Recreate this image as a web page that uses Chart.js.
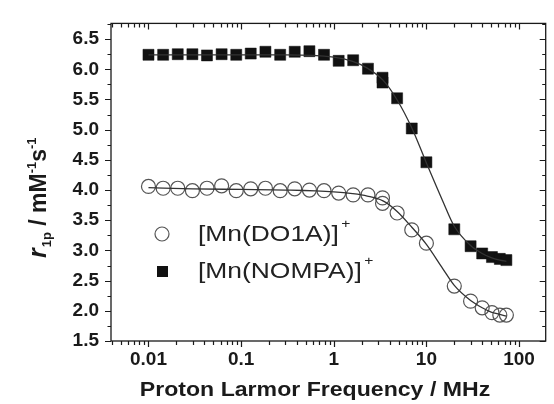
<!DOCTYPE html>
<html>
<head>
<meta charset="utf-8">
<script src="https://cdn.jsdelivr.net/npm/chart.js@4.4.0/dist/chart.umd.min.js"></script>
<style>
  html, body { margin: 0; padding: 0; background: #fff; }
  #wrap { width: 554px; height: 404px; }
</style>
</head>
<body>
<div id="wrap"><canvas id="chart" width="554" height="404"></canvas></div>
<script>
// proton Larmor frequency, MHz
const freqs = [0.01, 0.0144, 0.0207, 0.0298, 0.0428, 0.0616, 0.0886, 0.127, 0.183, 0.264, 0.379, 0.546, 0.785,
               1.13, 1.62, 2.34, 3.36, 3.36, 4.83, 6.95, 10, 20, 30, 40, 51, 62, 73];
// r1p, mM-1 s-1
const do1aR1 = [4.06, 4.03, 4.03, 3.99, 4.03, 4.07, 3.99, 4.02, 4.03, 3.99, 4.02, 4.00, 3.99,
                3.95, 3.92, 3.92, 3.87, 3.78, 3.62, 3.34, 3.12, 2.41, 2.16, 2.05, 1.97, 1.93, 1.93];
const nompaR1 = [6.24, 6.24, 6.25, 6.25, 6.23, 6.25, 6.24, 6.26, 6.29, 6.24, 6.29, 6.30, 6.24,
                 6.14, 6.15, 6.01, 5.86, 5.78, 5.52, 5.02, 4.46, 3.35, 3.07, 2.95, 2.89, 2.86, 2.84];

// fitted curves
const fitFreqs = [0.01, 0.03, 0.1, 0.3, 1, 1.6, 2.3, 3.4, 4.8, 7, 10, 15, 20, 30, 40, 50, 62, 73];
const do1aFit = [4.04, 4.02, 4.01, 4.00, 3.97, 3.94, 3.90, 3.82, 3.65, 3.38, 3.10, 2.70, 2.42, 2.17, 2.05, 1.98, 1.94, 1.91];
const nompaFit = [6.24, 6.24, 6.24, 6.24, 6.20, 6.13, 6.02, 5.82, 5.50, 5.02, 4.45, 3.82, 3.40, 3.08, 2.95, 2.88, 2.84, 2.82];

const xTicks = [0.01, 0.1, 1, 10, 100];
const xTickLabels = ['0.01', '0.1', '1', '10', '100'];
const yTicks = [1.5, 2.0, 2.5, 3.0, 3.5, 4.0, 4.5, 5.0, 5.5, 6.0, 6.5];
const yTickLabels = ['1.5', '2.0', '2.5', '3.0', '3.5', '4.0', '4.5', '5.0', '5.5', '6.0', '6.5'];

const seriesNames = ['[Mn(DO1A)]', '[Mn(NOMPA)]'];
const FONT = "'Liberation Sans', Arial, sans-serif";
const INK = '#1a1a1a';

const toPoints = (xs, ys) => xs.map((x, i) => ({ x: x, y: ys[i] }));

// frame, mirrored ticks, y title, x title and the in-plot legend
const decorations = {
    id: 'decorations',
    afterDraw(chart) {
        const ctx = chart.ctx;
        const a = chart.chartArea;
        const xs = chart.scales.x, ys = chart.scales.y;
        ctx.save();
        ctx.strokeStyle = INK;
        ctx.lineWidth = 1.3;
        ctx.strokeRect(a.left, a.top, a.right - a.left, a.bottom - a.top);

        ctx.beginPath();
        for (let d = -3; d <= 2; d++) {
            for (let m = 1; m <= 9; m++) {
                const v = m * Math.pow(10, d);
                if (v < xs.min || v > xs.max) continue;
                const px = Math.round(xs.getPixelForValue(v)) + 0.5;
                const len = m === 1 ? 6 : 4;
                ctx.moveTo(px, a.bottom); ctx.lineTo(px, a.bottom + len);
                ctx.moveTo(px, a.top); ctx.lineTo(px, a.top + len);
            }
        }
        for (let v = 1.5; v <= 6.76; v += 0.25) {
            const py = Math.round(ys.getPixelForValue(v)) + 0.5;
            const len = Math.abs(v * 2 - Math.round(v * 2)) < 1e-6 ? 6 : 3.5;
            ctx.moveTo(a.left - len, py); ctx.lineTo(a.left, py);
            ctx.moveTo(a.right - len, py); ctx.lineTo(a.right, py);
        }
        ctx.lineWidth = 1.2;
        ctx.stroke();

        // x title
        ctx.fillStyle = INK;
        ctx.textAlign = 'center';
        ctx.textBaseline = 'middle';
        ctx.save();
        ctx.translate(315, 390);
        ctx.scale(1.1, 1);
        ctx.font = 'bold 21px ' + FONT;
        ctx.fillText('Proton Larmor Frequency / MHz', 0, 0);
        ctx.restore();

        // y title: r_1p / mM^-1 s^-1
        ctx.save();
        ctx.translate(46, 258);
        ctx.rotate(-Math.PI / 2);
        ctx.textAlign = 'left';
        ctx.textBaseline = 'alphabetic';
        const parts = [
            { t: 'r', f: 'italic bold 25px ', dy: 0 },
            { t: '1p', f: 'bold 13px ', dy: 5 },
            { t: ' / mM', f: 'bold 23px ', dy: 0 },
            { t: '-1', f: 'bold 13px ', dy: -10 },
            { t: 's', f: 'bold 23px ', dy: 0 },
            { t: '-1', f: 'bold 13px ', dy: -10 }
        ];
        let cx = 0;
        for (const p of parts) {
            ctx.font = p.f + FONT;
            ctx.fillText(p.t, cx, p.dy);
            cx += ctx.measureText(p.t).width + (p.t === 'r' ? 1 : 0);
        }
        ctx.restore();

        // legend
        const rows = [{ y: 234, name: seriesNames[0] }, { y: 271, name: seriesNames[1] }];
        ctx.lineWidth = 1.2;
        ctx.strokeStyle = '#555';
        ctx.beginPath();
        ctx.arc(162, rows[0].y, 7, 0, Math.PI * 2);
        ctx.stroke();
        ctx.fillStyle = '#111';
        ctx.fillRect(157, rows[1].y - 5, 11, 11);
        ctx.fillStyle = '#222';
        for (const r of rows) {
            ctx.save();
            ctx.translate(198, r.y);
            ctx.scale(1.2, 1);
            ctx.textAlign = 'left';
            ctx.textBaseline = 'middle';
            ctx.font = '22px ' + FONT;
            ctx.fillText(r.name, 0, 1);
            const w = ctx.measureText(r.name).width;
            ctx.font = '13px ' + FONT;
            ctx.fillText('+', w + 2, -10);
            ctx.restore();
        }
        ctx.restore();
    }
};

new Chart(document.getElementById('chart'), {
    type: 'scatter',
    data: {
        datasets: [
            {
                type: 'line',
                data: toPoints(fitFreqs, do1aFit),
                borderColor: '#333',
                borderWidth: 1.3,
                pointRadius: 0,
                cubicInterpolationMode: 'monotone',
                fill: false
            },
            {
                type: 'line',
                data: toPoints(fitFreqs, nompaFit),
                borderColor: '#333',
                borderWidth: 1.3,
                pointRadius: 0,
                cubicInterpolationMode: 'monotone',
                fill: false
            },
            {
                label: seriesNames[0],
                data: toPoints(freqs, do1aR1),
                pointStyle: 'circle',
                pointRadius: 7,
                borderColor: '#555',
                borderWidth: 1.2,
                backgroundColor: 'rgba(0,0,0,0)'
            },
            {
                label: seriesNames[1],
                data: toPoints(freqs, nompaR1),
                pointStyle: 'rect',
                pointRadius: 7.8,
                borderColor: '#111',
                borderWidth: 0.5,
                backgroundColor: '#111'
            }
        ]
    },
    options: {
        responsive: false,
        animation: false,
        layout: { padding: { top: 14, right: 2, left: 0, bottom: 0 } },
        plugins: {
            legend: { display: false },
            tooltip: { enabled: false }
        },
        scales: {
            x: {
                type: 'logarithmic',
                min: 0.00394,
                max: 194,
                grid: { display: false, drawTicks: false },
                border: { display: false },
                afterBuildTicks: s => { s.ticks = xTicks.map(v => ({ value: v })); },
                afterFit: s => { s.height = 63; },
                ticks: {
                    autoSkip: false,
                    maxRotation: 0,
                    padding: 7,
                    color: INK,
                    font: { family: FONT, size: 19, weight: 'bold' },
                    callback: (v, i) => xTickLabels[i]
                }
            },
            y: {
                min: 1.5,
                max: 6.76,
                grid: { display: false, drawTicks: false },
                border: { display: false },
                afterBuildTicks: s => { s.ticks = yTicks.map(v => ({ value: v })); },
                afterFit: s => { s.width = 111; },
                ticks: {
                    padding: 12,
                    color: INK,
                    font: { family: FONT, size: 19, weight: 'bold' },
                    callback: (v, i) => yTickLabels[i]
                }
            }
        }
    },
    plugins: [decorations]
});
</script>
</body>
</html>
